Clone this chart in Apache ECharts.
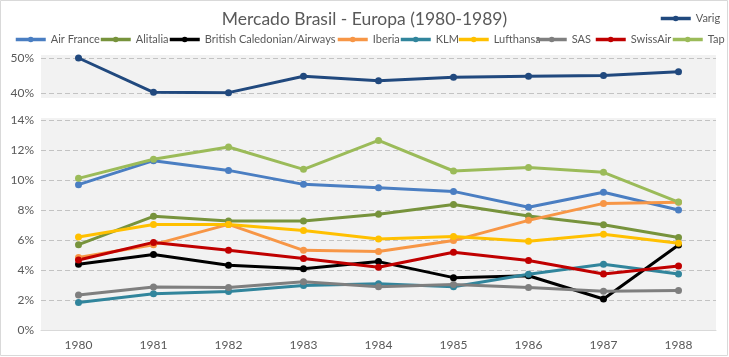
<!DOCTYPE html>
<html><head><meta charset="utf-8">
<script src="https://cdn.jsdelivr.net/npm/echarts@6/dist/echarts.min.js"></script>
<style>html,body{margin:0;padding:0;background:#fff}#c{width:729px;height:357px}</style>
</head><body><div id="c"></div>
<script>
const years = ['1980','1981','1982','1983','1984','1985','1986','1987','1988'];
const varig = [50.0, 40.2, 40.1, 44.8, 43.5, 44.5, 44.8, 45.0, 46.1];
const airFrance = [9.69, 11.29, 10.64, 9.71, 9.49, 9.24, 8.18, 9.18, 8.00];
const alitalia = [5.69, 7.58, 7.27, 7.27, 7.71, 8.36, 7.60, 7.02, 6.16];
const britishCaledonian = [4.38, 5.04, 4.31, 4.09, 4.56, 3.49, 3.62, 2.07, 5.67];
const iberia = [4.84, 5.69, 7.04, 5.31, 5.24, 5.96, 7.31, 8.44, 8.51];
const klm = [1.84, 2.42, 2.56, 2.96, 3.09, 2.89, 3.71, 4.38, 3.73];
const lufthansa = [6.20, 7.04, 7.04, 6.64, 6.07, 6.24, 5.91, 6.38, 5.78];
const sas = [2.33, 2.87, 2.84, 3.22, 2.89, 3.04, 2.84, 2.58, 2.64];
const swissAir = [4.67, 5.84, 5.31, 4.76, 4.18, 5.18, 4.64, 3.73, 4.27];
const tap = [10.11, 11.38, 12.20, 10.71, 12.64, 10.60, 10.84, 10.51, 8.53];

const lower = [
  ['Air France', airFrance, '#4A7EC2'],
  ['Alitalia', alitalia, '#77933C'],
  ['British Caledonian/Airways', britishCaledonian, '#000000'],
  ['Iberia', iberia, '#F79646'],
  ['KLM', klm, '#31859C'],
  ['Lufthansa', lufthansa, '#FFC000'],
  ['SAS', sas, '#7F7F7F'],
  ['SwissAir', swissAir, '#C00000'],
  ['Tap', tap, '#9BBB59']
];
const legendLeft = [14, 99, 168, 336, 399, 457, 535, 594, 671];

const FONT = 'Lato';
const TXT = '#595959';
const grids = [
  {left: 41, width: 675, top: 58, height: 35},
  {left: 41, width: 675, top: 120, height: 210}
];

function mkSeries(name, data, color, idx) {
  return {
    name, type: 'line', data, xAxisIndex: idx, yAxisIndex: idx,
    symbol: 'circle', symbolSize: 7, showSymbol: true,
    lineStyle: {width: 3, color}, itemStyle: {color},
    emphasis: {disabled: true}, animation: false
  };
}

const series = [mkSeries('Varig', varig, '#21497E', 0)]
  .concat(lower.map(l => mkSeries(l[0], l[1], l[2], 1)));

const legendStyle = {padding: 0, itemWidth: 30, itemHeight: 7,
  lineStyle: {width: 3.5}, textStyle: {fontFamily: FONT, fontSize: 11, color: TXT}};
const legends = [Object.assign({data: ['Varig'], left: 659, top: 13}, legendStyle)]
  .concat(lower.map((l, i) => Object.assign({data: [l[0]], left: legendLeft[i], top: 34}, legendStyle)));

const yAxisCommon = {
  type: 'value', axisLine: {show: false}, axisTick: {show: false},
  axisLabel: {formatter: '{value}%', color: TXT, fontFamily: FONT, fontSize: 12, margin: 7},
  splitLine: {show: true, lineStyle: {color: '#C3C3C3', type: [5, 3], width: 1}}
};

const option = {
  backgroundColor: '#fff',
  animation: false,
  title: {text: 'Mercado Brasil - Europa (1980-1989)', left: 'center', top: 5,
    textStyle: {fontFamily: FONT, fontWeight: 'normal', fontSize: 17.5, color: TXT}},
  graphic: [
    {type: 'rect', shape: {x: 0.5, y: 0.5, width: 727, height: 355}, style: {fill: 'none', stroke: '#D9D9D9', lineWidth: 1}, z: -10},
    {type: 'rect', shape: {x: 41, y: 55, width: 675, height: 43}, style: {fill: '#F2F2F2'}, z: -5},
    {type: 'rect', shape: {x: 41, y: 118, width: 675, height: 212}, style: {fill: '#F2F2F2'}, z: -5}
  ],
  legend: legends,
  grid: grids,
  xAxis: [
    {type: 'category', data: years, gridIndex: 0, boundaryGap: true, show: false},
    {type: 'category', data: years, gridIndex: 1, boundaryGap: true,
      axisLine: {lineStyle: {color: '#D9D9D9', width: 1}}, axisTick: {show: false},
      axisLabel: {color: TXT, fontFamily: FONT, fontSize: 12, margin: 9}}
  ],
  yAxis: [
    Object.assign({}, yAxisCommon, {gridIndex: 0, min: 40, max: 50, interval: 10}),
    Object.assign({}, yAxisCommon, {gridIndex: 1, min: 0, max: 14, interval: 2})
  ],
  series
};
const chart = echarts.init(document.getElementById('c'), null, {renderer: 'canvas'});
chart.setOption(option);
</script></body></html>
